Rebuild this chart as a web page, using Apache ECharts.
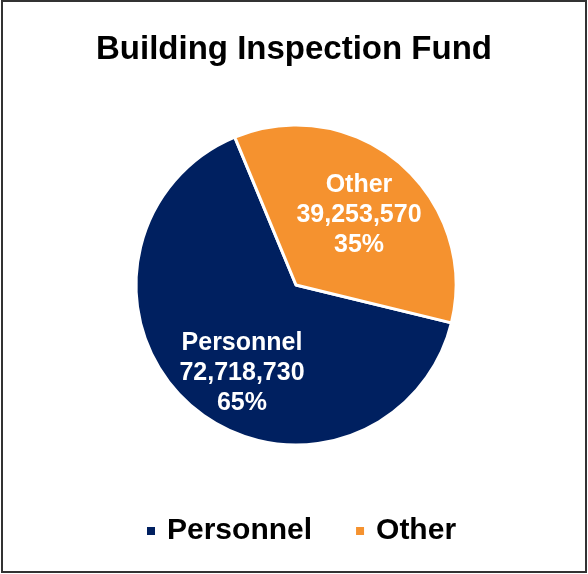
<!DOCTYPE html>
<html>
<head>
    <meta charset="UTF-8">
    <title>Building Inspection Fund</title>
    <script src="https://cdn.jsdelivr.net/npm/echarts@6/dist/echarts.min.js"></script>
    <style>
        body { margin: 0; background: #fff; }
        #chart { width: 588px; height: 574px; }
    </style>
</head>
<body>
<div id="chart"></div>
<script>
    // data
    var categories = ["Personnel", "Other"];
    var amounts = [72718730, 39253570];
    var colors = ["#002060", "#F5922F"];
    // nudge labels to where the original puts them
    var labelOffsets = [[0, 25], [9, -7]];

    var pieData = [];
    for (var i = 0; i < categories.length; i++) {
        pieData.push({
            name: categories[i],
            value: amounts[i],
            itemStyle: {color: colors[i]},
            label: {offset: labelOffsets[i]}
        });
    }

    var chart = echarts.init(document.getElementById('chart'), null, {renderer: 'canvas'});
    chart.setOption({
        animation: false,
        backgroundColor: '#fff',
        title: {
            text: 'Building Inspection Fund',
            left: 'center',
            top: 28,
            textStyle: {
                fontFamily: 'Liberation Sans, Arial, sans-serif',
                fontSize: 33,
                fontWeight: 'bold',
                color: '#000'
            }
        },
        legend: {
            data: categories,
            bottom: 23,
            left: 140,
            icon: 'rect',
            itemWidth: 10,
            itemHeight: 10,
            itemGap: 42,
            textStyle: {
                fontFamily: 'Liberation Sans, Arial, sans-serif',
                fontSize: 30,
                fontWeight: 'bold',
                color: '#000',
                padding: [0, 0, 0, 6]
            }
        },
        graphic: [{
            type: 'rect',
            shape: {x: 2, y: 1, width: 584, height: 571},
            style: {fill: 'none', stroke: '#333', lineWidth: 2},
            silent: true
        }],
        series: [{
            type: 'pie',
            center: [296, 285],
            radius: [0, 160],
            startAngle: -13.7,
            clockwise: true,
            data: pieData,
            itemStyle: {borderColor: '#fff', borderWidth: 3},
            label: {
                position: 'inside',
                color: '#fff',
                fontFamily: 'Liberation Sans, Arial, sans-serif',
                fontSize: 25,
                fontWeight: 'bold',
                lineHeight: 30,
                formatter: function (p) {
                    return p.name + '\n' + p.value.toLocaleString('en-US') + '\n' + Math.round(p.percent) + '%';
                }
            },
            labelLine: {show: false},
            emphasis: {disabled: true}
        }]
    });
</script>
</body>
</html>
